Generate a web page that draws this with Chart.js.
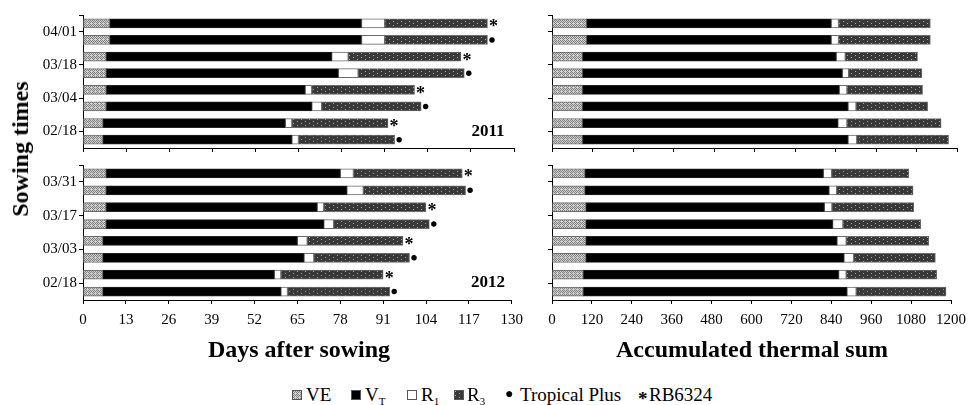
<!DOCTYPE html>
<html>
<head>
<meta charset="utf-8">
<script src="https://cdn.jsdelivr.net/npm/chart.js@4.4.1/dist/chart.umd.min.js"></script>
<style>
  html, body { margin: 0; padding: 0; background: #fff; }
  body { width: 973px; height: 405px; position: relative; overflow: hidden;
         font-family: "Liberation Serif", "Times New Roman", serif; color: #000; }
  canvas.panel { position: absolute; }
  .txt { position: absolute; white-space: nowrap; line-height: 1; }
  #ylab { left: 20px; top: 149px; font-size: 24px; font-weight: bold;
          transform: translate(-50%, -50%) rotate(-90deg); }
  .xtitle { top: 349px; font-size: 24px; font-weight: bold; transform: translate(-50%, -50%); }
  .year { font-size: 17px; font-weight: bold; transform: translate(-50%, -50%); }
  .lg { position: absolute; top: 394px; transform: translateY(-50%); font-size: 19px;
        line-height: 1; white-space: nowrap; }
  .lg sub { font-size: 11px; vertical-align: -4px; line-height: 0; }
  canvas.sw { position: absolute; top: 390px; }
</style>
</head>
<body>
<canvas id="daysA" class="panel" width="530" height="160" style="left:0;top:0"></canvas>
<canvas id="daysB" class="panel" width="530" height="195" style="left:0;top:150px"></canvas>
<canvas id="heatA" class="panel" width="443" height="160" style="left:530px;top:0"></canvas>
<canvas id="heatB" class="panel" width="443" height="195" style="left:530px;top:150px"></canvas>

<div id="ylab" class="txt">Sowing times</div>
<div class="txt year" style="left:488px;top:130px">2011</div>
<div class="txt year" style="left:488px;top:281px">2012</div>
<div class="txt xtitle" style="left:299px">Days after sowing</div>
<div class="txt xtitle" style="left:752px">Accumulated thermal sum</div>

<canvas id="swVE" class="sw" width="10" height="10" style="left:292px"></canvas>
<div class="lg" style="left:306px">VE</div>
<canvas id="swVT" class="sw" width="10" height="10" style="left:351px"></canvas>
<div class="lg" style="left:365px">V<sub>T</sub></div>
<canvas id="swR1" class="sw" width="10" height="10" style="left:407px"></canvas>
<div class="lg" style="left:421px">R<sub>1</sub></div>
<canvas id="swR3" class="sw" width="10" height="10" style="left:454px"></canvas>
<div class="lg" style="left:467px">R<sub>3</sub></div>
<div class="lg" style="left:505px;font-size:14px">&#9679;</div>
<div class="lg" style="left:520px">Tropical Plus</div>
<div class="lg" style="left:638px;font-weight:bold;font-size:19px;top:398px">*</div>
<div class="lg" style="left:649px">RB6324</div>

<script>
// Sowing dates (one group of two cultivars per date, top to bottom)
const sowing2011 = ['04/01', '03/18', '03/04', '02/18'];
const sowing2012 = ['03/31', '03/17', '03/03', '02/18'];
// Cultivar of each bar row inside a group: RB6324 first, Tropical Plus second
const rowCultivar = ['RB6324', 'Tropical Plus', 'RB6324', 'Tropical Plus',
                     'RB6324', 'Tropical Plus', 'RB6324', 'Tropical Plus'];

const dayTicks = [0, 13, 26, 39, 52, 65, 78, 91, 104, 117, 130];
const thermalTicks = [0, 120, 240, 360, 480, 600, 720, 840, 960, 1080, 1200];

// Duration of each phenological phase, days after sowing — 2011
const days2011VE = [8, 8, 7, 7, 7, 7, 6, 6];
const days2011VT = [76, 76, 68, 70, 60, 62, 55, 57];
const days2011R1 = [7, 7, 5, 6, 2, 3, 2, 2];
const days2011R3 = [31, 31, 34, 32, 31, 30, 29, 29];

// Duration of each phenological phase, days after sowing — 2012
const days2012VE = [7, 7, 7, 7, 6, 6, 6, 6];
const days2012VT = [71, 73, 64, 66, 59, 61, 52, 54];
const days2012R1 = [4, 5, 2, 3, 3, 3, 2, 2];
const days2012R3 = [33, 31, 31, 29, 29, 29, 31, 31];

// Thermal sum accumulated in each phase — 2011
const heat2011VE = [102, 102, 90, 90, 90, 90, 90, 90];
const heat2011VT = [725, 725, 752, 770, 761, 787, 757, 787];
const heat2011R1 = [22, 22, 27, 19, 23, 24, 27, 26];
const heat2011R3 = [272, 272, 214, 217, 224, 212, 279, 272];

// Thermal sum accumulated in each phase — 2012
const heat2012VE = [99, 99, 102, 102, 102, 102, 94, 94];
const heat2012VT = [717, 734, 717, 742, 755, 776, 768, 793];
const heat2012R1 = [25, 23, 23, 31, 28, 29, 23, 28];
const heat2012R3 = [232, 230, 246, 234, 248, 246, 272, 270];

// ---- fill patterns -------------------------------------------------------
function makePattern(w, h, base, dots, dotColor) {
  const c = document.createElement('canvas');
  c.width = w; c.height = h;
  const g = c.getContext('2d');
  g.fillStyle = base; g.fillRect(0, 0, w, h);
  g.fillStyle = dotColor;
  dots.forEach(([x, y]) => g.fillRect(x, y, 1, 1));
  return g.createPattern(c, 'repeat');
}
const fillVE = makePattern(4, 4, '#d2d2d2',
  [[0,0],[2,0],[1,1],[3,1],[0,2],[2,2],[1,3]], '#7e7e7e');
const fillVT = '#000000';
const fillR1 = '#ffffff';
const fillR3 = makePattern(8, 4, '#383838', [[1,1],[5,3]], '#a8a8a8');

const phaseFills = [fillVE, fillVT, fillR1, fillR3];
const phaseNames = ['VE', 'VT', 'R1', 'R3'];

// ---- legend swatches -----------------------------------------------------
['swVE', 'swVT', 'swR1', 'swR3'].forEach((id, k) => {
  const g = document.getElementById(id).getContext('2d');
  g.fillStyle = phaseFills[k]; g.fillRect(0, 0, 10, 10);
  g.strokeStyle = '#555'; g.lineWidth = 1; g.strokeRect(0.5, 0.5, 9, 9);
});

// ---- charts --------------------------------------------------------------
Chart.defaults.font.family = "'Liberation Serif', 'Times New Roman', serif";
Chart.defaults.color = '#000';

// Cultivar mark (* or ●) just after the end of each stacked bar
const cultivarMarks = {
  id: 'cultivarMarks',
  afterDatasetsDraw(chart) {
    const meta = chart.getDatasetMeta(chart.data.datasets.length - 1);
    const ctx = chart.ctx;
    ctx.save();
    ctx.fillStyle = '#000';
    meta.data.forEach((bar, i) => {
      if (rowCultivar[i] === 'RB6324') {
        ctx.font = "bold 18px 'Liberation Serif', serif";
        ctx.textAlign = 'left';
        ctx.textBaseline = 'alphabetic';
        ctx.fillText('*', bar.x + 1.5, bar.y + 9);
      } else {
        ctx.beginPath();
        ctx.arc(bar.x + 4.5, bar.y, 2.7, 0, Math.PI * 2);
        ctx.fill();
      }
    });
    ctx.restore();
  }
};

function buildPanel(id, phases, opt) {
  const datasets = phases.map((vals, k) => ({
    label: phaseNames[k],
    data: vals.map((v, i) => ({ x: v, y: i })),
    backgroundColor: phaseFills[k],
    borderColor: k === 1 ? '#222' : '#6a6a6a',
    borderWidth: 1,
    borderSkipped: false,
    barThickness: 9,
    stack: 'phases'
  }));
  const ticksX = opt.xTicks;
  return new Chart(document.getElementById(id), {
    type: 'bar',
    data: { datasets },
    options: {
      indexAxis: 'y',
      responsive: false,
      animation: false,
      devicePixelRatio: 1,
      layout: { padding: { top: opt.padTop, right: 16, left: 0, bottom: 0 } },
      plugins: { legend: { display: false }, tooltip: { enabled: false } },
      scales: {
        x: {
          type: 'linear',
          stacked: true,
          offset: false,
          min: ticksX[0],
          max: ticksX[ticksX.length - 1],
          afterBuildTicks: s => { s.ticks = ticksX.map(v => ({ value: v })); },
          afterFit: s => { s.height = opt.xHeight; },
          ticks: {
            display: opt.showXLabels,
            maxRotation: 0,
            autoSkip: false,
            padding: 7,
            font: { size: 15 },
            callback: v => String(v)
          },
          grid: { offset: false, drawOnChartArea: false, drawTicks: true, tickLength: 4, color: '#000' },
          border: { display: true, color: '#000', width: 1 }
        },
        y: {
          type: 'linear',
          reverse: true,
          offset: false,
          min: -0.5,
          max: 7.5,
          afterBuildTicks: s => {
            s.ticks = [-0.5, 0.5, 2.5, 4.5, 6.5].map(v => ({ value: v }));
          },
          afterFit: s => { s.width = opt.yWidth; },
          ticks: {
            autoSkip: false,
            padding: 2,
            font: { size: 15 },
            callback: v => (opt.groups && v > 0) ? opt.groups[(v - 0.5) / 2] : ''
          },
          grid: { offset: false, drawOnChartArea: false, drawTicks: true, tickLength: 4, color: '#000' },
          border: { display: true, color: '#000', width: 1 }
        }
      }
    },
    plugins: opt.marks ? [cultivarMarks] : []
  });
}

buildPanel('daysA', [days2011VE, days2011VT, days2011R1, days2011R3],
  { xTicks: dayTicks, groups: sowing2011, showXLabels: false, padTop: 15, xHeight: 12, yWidth: 83, marks: true });
buildPanel('daysB', [days2012VE, days2012VT, days2012R1, days2012R3],
  { xTicks: dayTicks, groups: sowing2012, showXLabels: true, padTop: 15, xHeight: 45, yWidth: 83, marks: true });
buildPanel('heatA', [heat2011VE, heat2011VT, heat2011R1, heat2011R3],
  { xTicks: thermalTicks, groups: null, showXLabels: false, padTop: 15, xHeight: 12, yWidth: 22, marks: false });
buildPanel('heatB', [heat2012VE, heat2012VT, heat2012R1, heat2012R3],
  { xTicks: thermalTicks, groups: null, showXLabels: true, padTop: 15, xHeight: 45, yWidth: 22, marks: false });
</script>
</body>
</html>
